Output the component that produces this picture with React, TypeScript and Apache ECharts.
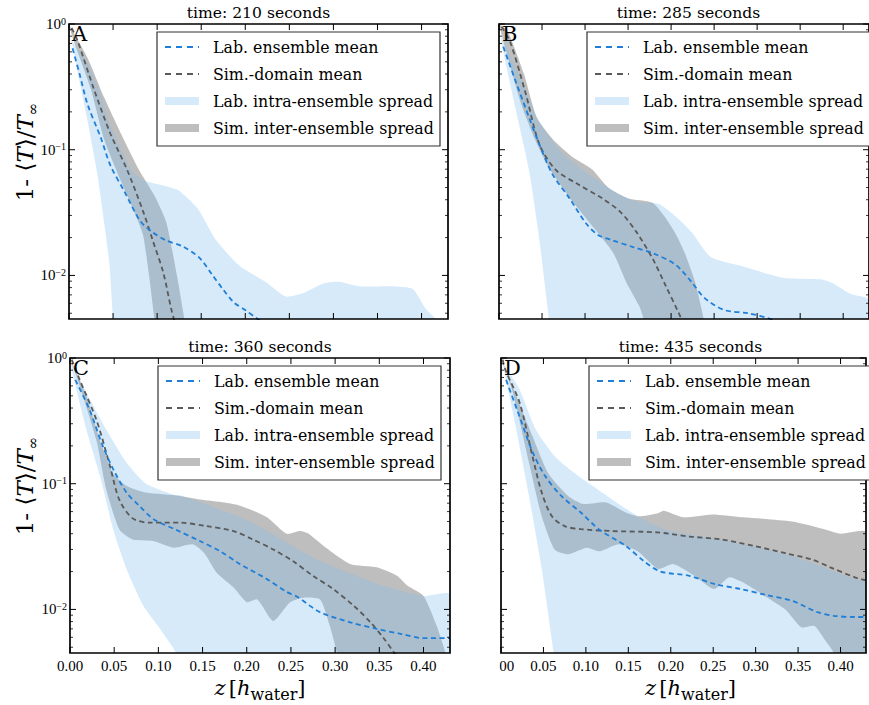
import React, { useEffect, useRef } from "react";
import * as echarts from "echarts";

type P = [number, number];

// ---------- data ----------
const panelTitles = ["time: 210 seconds", "time: 285 seconds", "time: 360 seconds", "time: 435 seconds"];
const panelLetters = ["A", "B", "C", "D"];
const legendLabels = ["Lab. ensemble mean", "Sim.-domain mean", "Lab. intra-ensemble spread", "Sim. inter-ensemble spread"];
const xTickValues = [0, 0.05, 0.1, 0.15, 0.2, 0.25, 0.3, 0.35, 0.4];
const yMajorTicks = [0.01, 0.1, 1];
const yMinorTicks = [0.005, 0.006, 0.007, 0.008, 0.009, 0.02, 0.03, 0.04, 0.05, 0.06, 0.07, 0.08, 0.09, 0.2, 0.3, 0.4, 0.5, 0.6, 0.7, 0.8, 0.9];
const X_MIN = 0;
const X_MAX = 0.43;
const Y_MIN = 0.0045;
const Y_MAX = 1;

// Panel A (210 s)
const labMeanA: P[] = [[0.004,0.64],[0.012,0.40],[0.021,0.23],[0.036,0.125],[0.047,0.075],[0.0625,0.047],[0.081,0.027],[0.095,0.022],[0.110,0.019],[0.129,0.017],[0.148,0.0138],[0.163,0.0100],[0.175,0.0077],[0.187,0.0061],[0.200,0.0053],[0.214,0.0045],[0.225,0.004]];
const simMeanA: P[] = [[0.003,0.93],[0.0096,0.74],[0.0285,0.30],[0.047,0.134],[0.066,0.069],[0.085,0.031],[0.095,0.019],[0.107,0.0105],[0.116,0.0054],[0.121,0.004]];
const simUpperA: P[] = [[0,1.0],[0.002,0.94],[0.021,0.54],[0.040,0.26],[0.059,0.134],[0.079,0.070],[0.097,0.043],[0.110,0.027],[0.117,0.016],[0.124,0.0087],[0.131,0.0045],[0.134,0.0035]];
const simLowerA: P[] = [[0,1.0],[0.004,0.78],[0.025,0.30],[0.040,0.12],[0.059,0.056],[0.074,0.032],[0.084,0.021],[0.091,0.0098],[0.097,0.0045],[0.100,0.0035]];
const labUpperA: P[] = [[0.003,0.74],[0.020,0.50],[0.036,0.27],[0.0455,0.165],[0.059,0.10],[0.072,0.067],[0.085,0.057],[0.123,0.048],[0.146,0.034],[0.167,0.019],[0.193,0.012],[0.224,0.0088],[0.246,0.0068],[0.265,0.0072],[0.288,0.0086],[0.306,0.0089],[0.329,0.0082],[0.367,0.0082],[0.390,0.0078],[0.405,0.0054],[0.416,0.0045],[0.42,0.0038]];
const labLowerA: P[] = [[0.003,0.72],[0.021,0.17],[0.032,0.065],[0.040,0.026],[0.046,0.012],[0.050,0.0045],[0.053,0.003],[0.42,0.003]];

// Panel B (285 s)
const labMeanB: P[] = [[0.005,0.66],[0.020,0.34],[0.035,0.18],[0.047,0.11],[0.062,0.064],[0.082,0.041],[0.101,0.026],[0.115,0.021],[0.130,0.0192],[0.156,0.0168],[0.179,0.0150],[0.205,0.0122],[0.223,0.0090],[0.239,0.0066],[0.262,0.0053],[0.290,0.0050],[0.316,0.0045],[0.33,0.0042]];
const simMeanB: P[] = [[0.003,0.95],[0.013,0.72],[0.031,0.28],[0.047,0.11],[0.066,0.069],[0.090,0.054],[0.120,0.041],[0.141,0.032],[0.160,0.022],[0.179,0.0134],[0.194,0.0082],[0.209,0.0050],[0.215,0.004]];
const simUpperB: P[] = [[0,1.0],[0.010,0.88],[0.029,0.40],[0.044,0.18],[0.063,0.12],[0.085,0.088],[0.108,0.070],[0.127,0.050],[0.150,0.041],[0.178,0.038],[0.193,0.029],[0.206,0.021],[0.216,0.015],[0.228,0.0088],[0.238,0.0045],[0.242,0.003]];
const simLowerB: P[] = [[0,1.0],[0.006,0.69],[0.025,0.24],[0.042,0.12],[0.057,0.074],[0.084,0.040],[0.110,0.024],[0.133,0.015],[0.148,0.0088],[0.163,0.0057],[0.168,0.0045],[0.172,0.003]];
const labUpperB: P[] = [[0.003,0.78],[0.029,0.32],[0.046,0.17],[0.073,0.095],[0.107,0.062],[0.137,0.045],[0.163,0.038],[0.186,0.037],[0.209,0.028],[0.224,0.022],[0.246,0.014],[0.283,0.0118],[0.329,0.0096],[0.374,0.0093],[0.389,0.0086],[0.409,0.0071],[0.43,0.0064]];
const labLowerB: P[] = [[0.003,0.70],[0.020,0.20],[0.035,0.068],[0.045,0.024],[0.052,0.010],[0.058,0.0045],[0.061,0.003],[0.43,0.003]];

// Panel C (360 s)
const labMeanC: P[] = [[0.006,0.67],[0.022,0.39],[0.037,0.20],[0.049,0.13],[0.064,0.085],[0.079,0.066],[0.095,0.052],[0.120,0.043],[0.147,0.035],[0.170,0.029],[0.192,0.023],[0.223,0.0174],[0.245,0.0138],[0.257,0.0126],[0.283,0.0095],[0.317,0.0079],[0.347,0.0070],[0.374,0.0064],[0.40,0.0059],[0.43,0.0059]];
const simMeanC: P[] = [[0.002,0.97],[0.011,0.67],[0.030,0.32],[0.045,0.14],[0.056,0.074],[0.071,0.053],[0.090,0.049],[0.124,0.049],[0.154,0.046],[0.185,0.042],[0.207,0.036],[0.230,0.030],[0.253,0.024],[0.275,0.0185],[0.298,0.0145],[0.321,0.0107],[0.340,0.0079],[0.355,0.0059],[0.366,0.0046],[0.372,0.004]];
const simUpperC: P[] = [[0,1.0],[0.0185,0.50],[0.034,0.22],[0.049,0.12],[0.064,0.096],[0.086,0.085],[0.124,0.080],[0.147,0.075],[0.175,0.071],[0.189,0.068],[0.205,0.062],[0.223,0.054],[0.245,0.040],[0.260,0.042],[0.270,0.040],[0.287,0.032],[0.317,0.023],[0.347,0.0216],[0.370,0.0185],[0.382,0.0154],[0.400,0.0128],[0.415,0.0074],[0.425,0.0045],[0.43,0.0035]];
const simLowerC: P[] = [[0,1.0],[0.011,0.60],[0.030,0.22],[0.041,0.090],[0.056,0.043],[0.071,0.036],[0.094,0.035],[0.117,0.031],[0.139,0.033],[0.152,0.028],[0.166,0.0196],[0.185,0.0150],[0.200,0.0114],[0.212,0.012],[0.230,0.0081],[0.249,0.0114],[0.264,0.0124],[0.283,0.012],[0.294,0.0074],[0.302,0.0045],[0.305,0.003]];
const labUpperC: P[] = [[0.002,0.90],[0.0185,0.53],[0.041,0.27],[0.064,0.147],[0.086,0.10],[0.117,0.082],[0.128,0.080],[0.204,0.050],[0.279,0.025],[0.355,0.0154],[0.40,0.0128],[0.43,0.0132]];
const labLowerC: P[] = [[0.002,0.81],[0.0185,0.27],[0.034,0.115],[0.049,0.043],[0.064,0.021],[0.083,0.0107],[0.102,0.0070],[0.120,0.0045],[0.125,0.003],[0.43,0.003]];

// Panel D (435 s)
const labMeanD: P[] = [[0.006,0.67],[0.022,0.34],[0.037,0.18],[0.052,0.115],[0.071,0.080],[0.094,0.059],[0.116,0.043],[0.147,0.032],[0.169,0.024],[0.188,0.020],[0.222,0.0185],[0.252,0.0159],[0.283,0.0145],[0.313,0.0130],[0.343,0.0117],[0.373,0.0095],[0.392,0.0089],[0.417,0.0087],[0.43,0.0087]];
const simMeanD: P[] = [[0.002,0.97],[0.005,0.81],[0.022,0.44],[0.037,0.166],[0.048,0.085],[0.060,0.055],[0.075,0.046],[0.094,0.0435],[0.131,0.042],[0.184,0.041],[0.222,0.038],[0.260,0.036],[0.298,0.032],[0.335,0.028],[0.366,0.025],[0.388,0.0216],[0.417,0.018],[0.43,0.017]];
const simUpperD: P[] = [[0,1.0],[0.018,0.50],[0.037,0.24],[0.056,0.12],[0.079,0.080],[0.097,0.069],[0.124,0.071],[0.147,0.059],[0.162,0.055],[0.184,0.058],[0.192,0.061],[0.215,0.054],[0.249,0.057],[0.286,0.054],[0.343,0.050],[0.381,0.0434],[0.400,0.040],[0.43,0.041]];
const simLowerD: P[] = [[0,1.0],[0.014,0.53],[0.033,0.147],[0.048,0.055],[0.063,0.030],[0.079,0.0275],[0.101,0.031],[0.116,0.029],[0.139,0.033],[0.161,0.029],[0.185,0.021],[0.203,0.023],[0.228,0.0185],[0.251,0.0145],[0.269,0.018],[0.288,0.016],[0.313,0.0125],[0.335,0.010],[0.354,0.0072],[0.369,0.0074],[0.381,0.0058],[0.392,0.0045],[0.397,0.003],[0.43,0.003]];
const labUpperD: P[] = [[0.002,0.92],[0.022,0.56],[0.041,0.27],[0.063,0.166],[0.086,0.122],[0.116,0.088],[0.154,0.059],[0.192,0.0434],[0.267,0.035],[0.343,0.0266],[0.417,0.0174],[0.43,0.0165]];
const labLowerD: P[] = [[0.002,0.91],[0.018,0.27],[0.033,0.080],[0.048,0.021],[0.062,0.0045],[0.065,0.003],[0.43,0.003]];

const labMeans = [labMeanA, labMeanB, labMeanC, labMeanD];
const simMeans = [simMeanA, simMeanB, simMeanC, simMeanD];
const simUppers = [simUpperA, simUpperB, simUpperC, simUpperD];
const simLowers = [simLowerA, simLowerB, simLowerC, simLowerD];
const labUppers = [labUpperA, labUpperB, labUpperC, labUpperD];
const labLowers = [labLowerA, labLowerB, labLowerC, labLowerD];

// ---------- styles / layout ----------
const BLUE_LINE = "#1f7fd8";
const GRAY_LINE = "#5a5a5a";
const GRAY_FILL = "#bebebe";
const BLUE_FILL = "rgba(127,189,239,0.32)";
const BLUE_SWATCH = "#d6eafa";
const SERIF = "DejaVu Serif";
const TICK_FONT = "Liberation Serif";
const DASH = [5, 3.5];

const grids = [
  { left: 69, top: 24, width: 379, height: 295 },
  { left: 499, top: 24, width: 379, height: 295 },
  { left: 70, top: 358, width: 380, height: 295 },
  { left: 501, top: 358, width: 379, height: 295 },
];

function bandRender(upper: P[], lower: P[], fill: string) {
  return (params: any, api: any) => {
    const pts = upper.map((p) => api.coord(p)).concat(lower.slice().reverse().map((p) => api.coord(p)));
    return { type: "polygon", shape: { points: pts, smooth: 0.2 }, style: { fill, stroke: null } };
  };
}

function frameRender(params: any, api: any) {
  const cs = params.coordSys;
  const L = cs.x, R = cs.x + cs.width, T = cs.y, B = cs.y + cs.height;
  const children: any[] = [];
  const seg = (x1: number, y1: number, x2: number, y2: number, w: number) => ({
    type: "line",
    shape: { x1, y1, x2, y2 },
    style: { stroke: "#000", lineWidth: w },
  });
  yMajorTicks.forEach((v) => {
    const y = api.coord([0, v])[1];
    children.push(seg(L, y, L + 6, y, 1), seg(R, y, R - 6, y, 1));
  });
  yMinorTicks.forEach((v) => {
    const y = api.coord([0, v])[1];
    children.push(seg(L, y, L + 3, y, 0.8), seg(R, y, R - 3, y, 0.8));
  });
  xTickValues.forEach((v) => {
    const x = api.coord([v, 1])[0];
    children.push(seg(x, T, x, T + 6, 1), seg(x, B, x, B - 6, 1));
  });
  children.push({
    type: "rect",
    shape: { x: L, y: T, width: cs.width, height: cs.height },
    style: { fill: "none", stroke: "#000", lineWidth: 1.7 },
  });
  return { type: "group", children };
}

function txt(x: number, y: number, text: string, extra: any = {}, align = "left", valign = "middle") {
  return {
    type: "text",
    x,
    y,
    z: 100,
    silent: true,
    style: {
      text,
      fill: "#000",
      fontFamily: SERIF,
      fontSize: 15.5,
      align,
      verticalAlign: valign,
      textAlign: align,
      textVerticalAlign: valign,
      ...extra,
    },
  };
}

function buildOption() {
  const xAxis: any[] = [];
  const yAxis: any[] = [];
  const series: any[] = [];
  const graphic: any[] = [];

  grids.forEach((g, i) => {
    xAxis.push({
      type: "value",
      gridIndex: i,
      min: X_MIN,
      max: X_MAX,
      interval: 0.05,
      axisLine: { show: false },
      axisTick: { show: false },
      splitLine: { show: false },
      axisLabel: {
        show: i >= 2,
        margin: 5,
        color: "#000",
        fontFamily: TICK_FONT,
        fontSize: 15,
        formatter: (v: number) => (v > 0.41 ? "" : v.toFixed(2)),
      },
    });
    yAxis.push({
      type: "log",
      logBase: 10,
      gridIndex: i,
      min: Y_MIN,
      max: Y_MAX,
      axisLine: { show: false },
      axisTick: { show: false },
      splitLine: { show: false },
      axisLabel: {
        show: i % 2 === 0,
        margin: 3,
        formatter: (v: number) => {
          const e = Math.log10(v);
          const r = Math.round(e);
          if (Math.abs(e - r) > 1e-6) return "";
          return `{b|10}{s|${r < 0 ? "\u2212" : ""}${Math.abs(r)}}`;
        },
        rich: {
          b: { fontFamily: TICK_FONT, fontSize: 15, color: "#000", lineHeight: 16 },
          s: { fontFamily: TICK_FONT, fontSize: 10, color: "#000", verticalAlign: "top", lineHeight: 10 },
        },
      },
    });

    series.push({
      type: "custom",
      xAxisIndex: i,
      yAxisIndex: i,
      clip: true,
      silent: true,
      z: 1,
      data: [[0.2, 0.1]],
      renderItem: bandRender(simUppers[i], simLowers[i], GRAY_FILL),
    });
    series.push({
      type: "custom",
      xAxisIndex: i,
      yAxisIndex: i,
      clip: true,
      silent: true,
      z: 2,
      data: [[0.2, 0.1]],
      renderItem: bandRender(labUppers[i], labLowers[i], BLUE_FILL),
    });
    series.push({
      type: "line",
      xAxisIndex: i,
      yAxisIndex: i,
      data: simMeans[i],
      smooth: 0.3,
      showSymbol: false,
      symbol: "none",
      clip: true,
      silent: true,
      z: 3,
      lineStyle: { color: GRAY_LINE, width: 1.8, type: DASH },
    });
    series.push({
      type: "line",
      xAxisIndex: i,
      yAxisIndex: i,
      data: labMeans[i],
      smooth: 0.3,
      showSymbol: false,
      symbol: "none",
      clip: true,
      silent: true,
      z: 4,
      lineStyle: { color: BLUE_LINE, width: 1.8, type: DASH },
    });
    series.push({
      type: "custom",
      xAxisIndex: i,
      yAxisIndex: i,
      clip: false,
      silent: true,
      z: 10,
      data: [[0.2, 0.1]],
      renderItem: frameRender,
    });

    const gx = g.left;
    const gy = g.top;
    // title
    graphic.push(txt(gx + g.width / 2, gy - 11, panelTitles[i], { fontSize: 15.6 }, "center"));
    // panel letter
    graphic.push(txt(gx + 3, gy + 10, panelLetters[i], { fontSize: 21 }, "left"));
    // legend
    graphic.push({
      type: "rect",
      z: 99,
      silent: true,
      shape: { x: gx + 88, y: gy + 8, width: 283, height: 114 },
      style: { fill: "#fff", stroke: "#333", lineWidth: 1.2 },
    });
    legendLabels.forEach((lab, k) => {
      const yy = gy + 23 + 27 * k;
      if (k === 0 || k === 1) {
        graphic.push({
          type: "line",
          z: 100,
          silent: true,
          shape: { x1: gx + 96, y1: yy, x2: gx + 130, y2: yy },
          style: { stroke: k === 0 ? BLUE_LINE : GRAY_LINE, lineWidth: 1.8, lineDash: [6, 5] },
        });
      } else {
        graphic.push({
          type: "rect",
          z: 100,
          silent: true,
          shape: { x: gx + 96, y: yy - 4, width: 34, height: 8 },
          style: { fill: k === 2 ? BLUE_SWATCH : GRAY_FILL },
        });
      }
      graphic.push(txt(gx + 144, yy, lab, { fontSize: 15.8 }, "left"));
    });

    // axis titles
    if (i % 2 === 0) {
      graphic.push({
        type: "text",
        x: 25,
        y: gy + 128,
        rotation: Math.PI / 2,
        z: 100,
        silent: true,
        style: {
          text: "{n|1- \u27e8}{i|T}{n|\u27e9/}{i|T}{u|\u221e}",
          align: "center",
          verticalAlign: "middle",
          textAlign: "center",
          textVerticalAlign: "middle",
          rich: {
            n: { fontFamily: SERIF, fontSize: 23, fill: "#000", lineHeight: 30 },
            i: { fontFamily: SERIF, fontSize: 23, fontStyle: "italic", fill: "#000", lineHeight: 30 },
            u: { fontFamily: SERIF, fontSize: 15, fill: "#000", verticalAlign: "bottom", lineHeight: 16 },
          },
        },
      });
    }
    if (i >= 2) {
      graphic.push({
        type: "text",
        x: gx + g.width / 2,
        y: 688,
        z: 100,
        silent: true,
        style: {
          text: "{i|z} {n|[}{i|h}{u|water}{n|]}",
          align: "center",
          verticalAlign: "middle",
          textAlign: "center",
          textVerticalAlign: "middle",
          rich: {
            n: { fontFamily: SERIF, fontSize: 21, fill: "#000", lineHeight: 28 },
            i: { fontFamily: SERIF, fontSize: 21, fontStyle: "italic", fill: "#000", lineHeight: 28 },
            u: { fontFamily: SERIF, fontSize: 16, fill: "#000", verticalAlign: "bottom", lineHeight: 18 },
          },
        },
      });
    }
  });

  // cropped-off part of panel D's first tick label
  graphic.push({
    type: "rect",
    z: 120,
    silent: true,
    shape: { x: 452, y: 655, width: 47.5, height: 20 },
    style: { fill: "#fff" },
  });

  return {
    animation: false,
    backgroundColor: "#fff",
    grid: grids.map((g) => ({ ...g, containLabel: false })),
    xAxis,
    yAxis,
    series,
    graphic: { elements: graphic },
  };
}

export default function App() {
  const ref = useRef<HTMLDivElement>(null);
  useEffect(() => {
    if (!ref.current) return;
    const chart = echarts.init(ref.current, undefined, { renderer: "svg" });
    chart.setOption(buildOption() as any);
    return () => chart.dispose();
  }, []);
  return (
    <div
      ref={ref}
      style={{ position: "absolute", left: 0, top: 0, width: 869, height: 705, background: "#fff" }}
    />
  );
}
